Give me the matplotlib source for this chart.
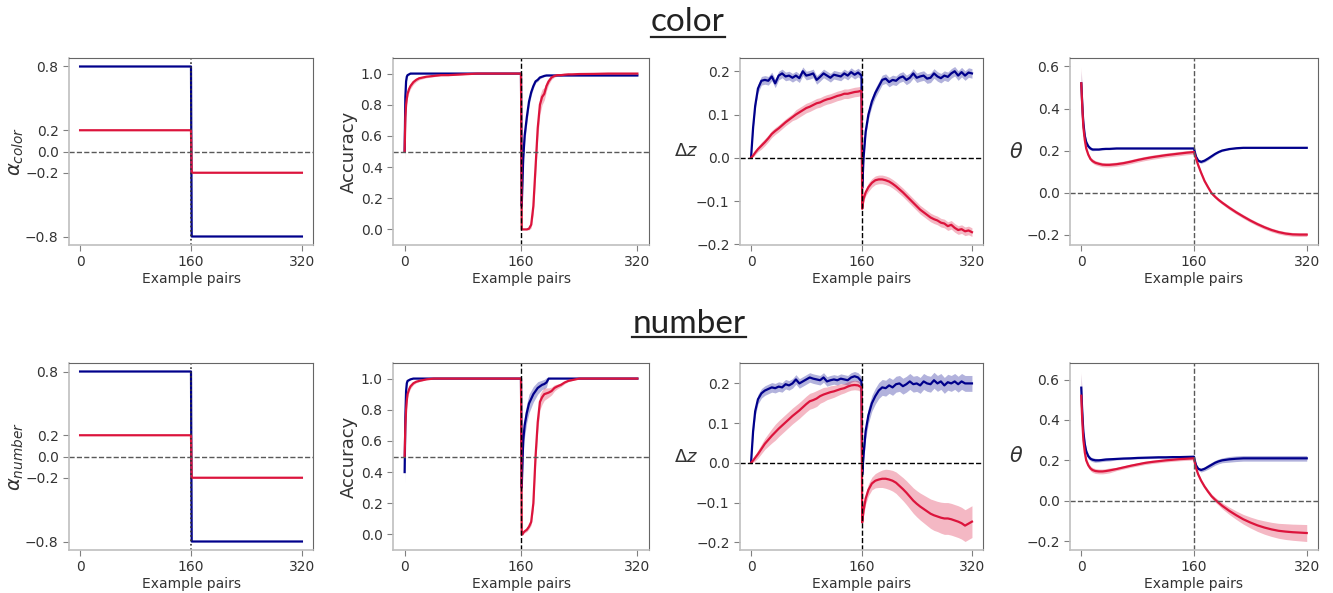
import numpy as np
import matplotlib
matplotlib.use('Agg')
import matplotlib.pyplot as plt
from matplotlib.lines import Line2D

BLUE = 'darkblue'
RED = 'crimson'
TXT = '#333333'

# ---- alpha (step schedule) ----
alpha_x = [0, 160, 161, 320]
alpha_blue = [0.8, 0.8, -0.8, -0.8]
alpha_red = [0.2, 0.2, -0.2, -0.2]

# ---- accuracy ----
acc_x = [0, 1, 2, 3, 4, 6, 8, 12, 16, 20, 25, 30, 40, 50, 60, 80, 100, 130, 160,
         161, 162, 163, 165, 168, 171, 174, 177, 180, 183, 186, 189, 192, 195, 198,
         202, 206, 210, 215, 220, 225, 230, 240, 260, 280, 300, 320]

acc_color_blue = [0.5, 0.85, 0.95, 0.98, 0.99, 0.995, 1.0, 1.0, 1.0, 1.0, 1.0, 1.0, 1.0, 1.0, 1.0, 1.0, 1.0, 1.0, 1.0,
                  0.15, 0.3, 0.45, 0.6, 0.72, 0.82, 0.88, 0.92, 0.95, 0.96, 0.975, 0.98, 0.985, 0.988, 0.988,
                  0.988, 0.988, 0.988, 0.988, 0.988, 0.988, 0.988, 0.988, 0.988, 0.988, 0.988, 0.988]
acc_color_blue_err = [0.03, 0.03, 0.02, 0.01, 0.005, 0.003, 0.002, 0, 0, 0, 0, 0, 0, 0, 0, 0, 0, 0, 0,
                      0.05, 0.06, 0.06, 0.05, 0.04, 0.03, 0.02, 0.015, 0.01, 0.01, 0.008, 0.006, 0.005, 0.004, 0.004,
                      0.003, 0.003, 0.003, 0.003, 0.003, 0.003, 0.003, 0.003, 0.003, 0.003, 0.003, 0.003]
acc_color_red = [0.5, 0.72, 0.8, 0.84, 0.87, 0.9, 0.92, 0.945, 0.96, 0.97, 0.975, 0.98, 0.985, 0.99, 0.99, 0.995, 1.0, 1.0, 1.0,
                 0.0, 0.0, 0.0, 0.0, 0.0, 0.005, 0.03, 0.15, 0.4, 0.65, 0.8, 0.85, 0.87, 0.92, 0.95,
                 0.975, 0.985, 0.99, 0.99, 0.993, 0.995, 0.995, 0.997, 0.998, 1.0, 1.0, 1.0]
acc_color_red_err = [0.06, 0.05, 0.04, 0.03, 0.025, 0.02, 0.018, 0.015, 0.012, 0.01, 0.008, 0.007, 0.005, 0.004, 0.003, 0.002, 0, 0, 0,
                     0, 0, 0, 0, 0.003, 0.008, 0.02, 0.05, 0.07, 0.07, 0.06, 0.05, 0.04, 0.03, 0.02,
                     0.012, 0.008, 0.006, 0.005, 0.004, 0.003, 0.003, 0.002, 0.002, 0.001, 0, 0]

acc_number_blue = [0.4, 0.75, 0.92, 0.97, 0.985, 0.99, 0.995, 1.0, 1.0, 1.0, 1.0, 1.0, 1.0, 1.0, 1.0, 1.0, 1.0, 1.0, 1.0,
                   0.3, 0.45, 0.6, 0.7, 0.78, 0.84, 0.87, 0.9, 0.92, 0.94, 0.95, 0.96, 0.965, 0.975, 1.0,
                   1.0, 1.0, 1.0, 1.0, 1.0, 1.0, 1.0, 1.0, 1.0, 1.0, 1.0, 1.0]
acc_number_blue_err = [0.07, 0.04, 0.02, 0.01, 0.006, 0.004, 0.002, 0, 0, 0, 0, 0, 0, 0, 0, 0, 0, 0, 0,
                       0.06, 0.07, 0.07, 0.07, 0.06, 0.06, 0.055, 0.05, 0.045, 0.04, 0.035, 0.03, 0.03, 0.03, 0.002,
                       0, 0, 0, 0, 0, 0, 0, 0, 0, 0, 0, 0]
acc_number_red = [0.5, 0.7, 0.8, 0.86, 0.9, 0.93, 0.95, 0.97, 0.98, 0.985, 0.99, 0.995, 1.0, 1.0, 1.0, 1.0, 1.0, 1.0, 1.0,
                  0.0, 0.0, 0.01, 0.02, 0.03, 0.05, 0.08, 0.2, 0.5, 0.72, 0.85, 0.88, 0.9, 0.905, 0.91,
                  0.92, 0.94, 0.95, 0.96, 0.975, 0.985, 0.99, 1.0, 1.0, 1.0, 1.0, 1.0]
acc_number_red_err = [0.05, 0.04, 0.03, 0.025, 0.02, 0.017, 0.015, 0.01, 0.007, 0.005, 0.003, 0.002, 0, 0, 0, 0, 0, 0, 0,
                      0, 0.003, 0.008, 0.01, 0.012, 0.015, 0.02, 0.04, 0.06, 0.06, 0.05, 0.045, 0.04, 0.035, 0.03,
                      0.025, 0.02, 0.015, 0.012, 0.008, 0.005, 0.003, 0, 0, 0, 0, 0]

# ---- delta z ----
dz_x = [0, 3, 6, 10,
        15, 20, 25, 30, 35, 40, 45, 50, 55, 60, 65, 70, 75, 80, 85, 90, 95, 100,
        105, 110, 115, 120, 125, 130, 135, 140, 145, 150, 155,
        160, 161, 163, 166,
        170, 175, 180, 185, 190, 195, 200, 205, 210, 215, 220, 225, 230, 235, 240, 245,
        250, 255, 260, 265, 270, 275, 280, 285, 290, 295, 300, 305, 310, 315, 320]

dz_color_blue = [0, 0.07, 0.12, 0.16,
                 0.178, 0.18, 0.178, 0.188, 0.172, 0.19, 0.195, 0.188, 0.19, 0.185, 0.19, 0.184, 0.2, 0.19, 0.192,
                 0.195, 0.18, 0.187, 0.195, 0.19, 0.185, 0.192, 0.19, 0.188, 0.195, 0.19, 0.198, 0.192, 0.197,
                 0.19, -0.07, 0.0, 0.06,
                 0.1, 0.13, 0.15, 0.165, 0.18, 0.183, 0.175, 0.18, 0.178, 0.185, 0.188, 0.18, 0.185, 0.195, 0.185,
                 0.188, 0.19, 0.183, 0.185, 0.195, 0.188, 0.184, 0.19, 0.187, 0.195, 0.2, 0.19, 0.198, 0.19, 0.197, 0.195]
dz_color_blue_err = [0, 0.005, 0.008, 0.01] + [0.01] * 29 + [0.01, 0.01, 0.01, 0.01] + [0.011] * 31
dz_color_red = [0, 0.005, 0.012, 0.02,
                0.028, 0.036, 0.045, 0.055, 0.062, 0.068, 0.075, 0.082, 0.088, 0.094, 0.1, 0.105, 0.11, 0.115,
                0.118, 0.122, 0.126, 0.128, 0.132, 0.135, 0.137, 0.14, 0.143, 0.145, 0.148, 0.148, 0.15, 0.152, 0.153,
                0.155, -0.118, -0.095, -0.08,
                -0.068, -0.058, -0.052, -0.05, -0.05, -0.052, -0.055, -0.06, -0.066, -0.073, -0.08, -0.088, -0.096,
                -0.104, -0.112, -0.12, -0.126, -0.132, -0.138, -0.142, -0.145, -0.15, -0.152, -0.158, -0.155,
                -0.162, -0.167, -0.165, -0.17, -0.168, -0.172]
dz_color_red_err = [0, 0.003, 0.005, 0.006] + [0.008] * 10 + [0.011] * 19 + [0.011, 0.006, 0.007, 0.008] + [0.01] * 31

dz_number_blue = [0, 0.08, 0.13, 0.16,
                  0.175, 0.182, 0.186, 0.19, 0.188, 0.192, 0.19, 0.198, 0.195, 0.2, 0.21, 0.2, 0.205, 0.21, 0.215,
                  0.212, 0.21, 0.208, 0.215, 0.205, 0.208, 0.21, 0.208, 0.212, 0.21, 0.208, 0.215, 0.218, 0.215,
                  0.205, -0.03, 0.02, 0.08,
                  0.12, 0.15, 0.168, 0.182, 0.19, 0.188, 0.195, 0.19, 0.198, 0.2, 0.193, 0.198, 0.205, 0.198, 0.2,
                  0.195, 0.205, 0.2, 0.198, 0.208, 0.2, 0.205, 0.195, 0.203, 0.2, 0.205, 0.198, 0.205, 0.2, 0.2, 0.2]
dz_number_blue_err = [0, 0.01, 0.012, 0.012] + [0.012] * 29 + [0.012, 0.01, 0.015, 0.02] + [0.02] * 31
dz_number_red = [0, 0.006, 0.013, 0.022,
                 0.035, 0.048, 0.058, 0.068, 0.077, 0.086, 0.094, 0.102, 0.11, 0.118, 0.125, 0.132, 0.14, 0.148,
                 0.155, 0.158, 0.162, 0.168, 0.172, 0.175, 0.178, 0.18, 0.183, 0.186, 0.188, 0.192, 0.195, 0.196, 0.195,
                 0.19, -0.15, -0.12, -0.09,
                 -0.068, -0.052, -0.045, -0.042, -0.04, -0.04, -0.042, -0.045, -0.05, -0.058, -0.066, -0.075, -0.085,
                 -0.095, -0.103, -0.11, -0.116, -0.122, -0.128, -0.132, -0.135, -0.138, -0.14, -0.14, -0.142,
                 -0.145, -0.148, -0.152, -0.158, -0.153, -0.148]
dz_number_red_err = ([0, 0.005, 0.008, 0.01] +
                     [0.012, 0.014, 0.016, 0.018, 0.02, 0.02, 0.02, 0.02, 0.02, 0.02, 0.02, 0.02, 0.02, 0.02, 0.02,
                      0.02, 0.02, 0.018, 0.018, 0.016, 0.016, 0.015, 0.014, 0.013, 0.012, 0.012, 0.012, 0.012, 0.012] +
                     [0.012, 0.01, 0.012, 0.014] +
                     [0.015, 0.016, 0.018, 0.02, 0.022, 0.024, 0.025, 0.026, 0.027, 0.028, 0.029, 0.03, 0.031, 0.032,
                      0.033, 0.034, 0.035, 0.036, 0.037, 0.038, 0.038, 0.039, 0.04, 0.04, 0.04, 0.04, 0.04, 0.04,
                      0.04, 0.04, 0.04])

# ---- theta ----
th_x = [0, 1, 2, 3, 5, 7, 10, 13, 16, 20, 25, 30, 35, 40,
        50, 60, 70, 80, 90, 100, 110, 120, 130, 140, 150, 160,
        161, 163, 166, 170, 175, 180, 185, 190, 195, 200,
        210, 220, 230, 240, 250, 260, 270, 280, 290, 300, 310, 320]

th_color_blue = [0.52, 0.45, 0.38, 0.33, 0.27, 0.24, 0.22, 0.21, 0.205, 0.205, 0.205, 0.207, 0.208, 0.208,
                 0.21, 0.21, 0.21, 0.21, 0.21, 0.21, 0.21, 0.21, 0.21, 0.21, 0.21, 0.21,
                 0.195, 0.17, 0.152, 0.146, 0.152, 0.162, 0.173, 0.184, 0.193, 0.2,
                 0.207, 0.211, 0.213, 0.213, 0.213, 0.213, 0.213, 0.213, 0.213, 0.213, 0.213, 0.213]
th_color_blue_err = [0.06, 0.04, 0.03, 0.02, 0.015, 0.012, 0.01, 0.008, 0.006, 0.005, 0.004, 0.004, 0.004, 0.004,
                     0.003, 0.003, 0.003, 0.003, 0.003, 0.003, 0.003, 0.003, 0.003, 0.003, 0.003, 0.003,
                     0.004, 0.006, 0.007, 0.007, 0.007, 0.007, 0.006, 0.005, 0.004, 0.004,
                     0.003, 0.003, 0.003, 0.003, 0.003, 0.003, 0.003, 0.003, 0.003, 0.003, 0.003, 0.003]
th_color_red = [0.52, 0.44, 0.37, 0.31, 0.25, 0.21, 0.18, 0.16, 0.15, 0.142, 0.137, 0.133, 0.132, 0.132,
                0.135, 0.14, 0.147, 0.155, 0.162, 0.168, 0.173, 0.178, 0.182, 0.186, 0.19, 0.193,
                0.18, 0.16, 0.13, 0.095, 0.055, 0.025, -0.003, -0.02, -0.035, -0.048,
                -0.072, -0.094, -0.114, -0.133, -0.15, -0.165, -0.178, -0.188, -0.195, -0.199, -0.2, -0.2]
th_color_red_err = [0.08, 0.05, 0.03, 0.02, 0.015, 0.012, 0.01, 0.01, 0.01, 0.01, 0.01, 0.01, 0.01, 0.01,
                    0.01, 0.01, 0.01, 0.01, 0.01, 0.01, 0.01, 0.01, 0.01, 0.01, 0.01, 0.01,
                    0.008, 0.008, 0.008, 0.008, 0.008, 0.008, 0.008, 0.008, 0.008, 0.008,
                    0.009, 0.009, 0.009, 0.009, 0.009, 0.009, 0.009, 0.009, 0.009, 0.009, 0.009, 0.009]

th_number_blue = [0.56, 0.47, 0.4, 0.34, 0.28, 0.245, 0.22, 0.208, 0.203, 0.2, 0.2, 0.202, 0.204, 0.205,
                  0.207, 0.209, 0.21, 0.212, 0.213, 0.214, 0.215, 0.215, 0.216, 0.216, 0.217, 0.218,
                  0.2, 0.175, 0.158, 0.152, 0.158, 0.168, 0.178, 0.188, 0.195, 0.2,
                  0.205, 0.208, 0.21, 0.21, 0.21, 0.21, 0.21, 0.21, 0.21, 0.21, 0.21, 0.21]
th_number_blue_err = [0.07, 0.05, 0.035, 0.025, 0.018, 0.014, 0.012, 0.01, 0.01, 0.01, 0.008, 0.008, 0.008, 0.008,
                      0.005, 0.005, 0.005, 0.005, 0.005, 0.005, 0.005, 0.005, 0.005, 0.005, 0.005, 0.005,
                      0.006, 0.007, 0.008, 0.01, 0.01, 0.012, 0.012, 0.012, 0.012, 0.012,
                      0.014, 0.014, 0.014, 0.014, 0.014, 0.014, 0.014, 0.014, 0.014, 0.014, 0.014, 0.014]
th_number_red = [0.52, 0.43, 0.36, 0.3, 0.24, 0.2, 0.175, 0.16, 0.152, 0.147, 0.145, 0.145, 0.147, 0.15,
                 0.157, 0.165, 0.173, 0.18, 0.187, 0.192, 0.196, 0.2, 0.203, 0.206, 0.208, 0.21,
                 0.19, 0.16, 0.13, 0.1, 0.07, 0.045, 0.022, 0.005, -0.01, -0.025,
                 -0.05, -0.072, -0.092, -0.108, -0.122, -0.133, -0.142, -0.149, -0.153, -0.156, -0.158, -0.16]
th_number_red_err = [0.12, 0.06, 0.04, 0.03, 0.02, 0.015, 0.012, 0.012, 0.012, 0.012, 0.012, 0.012, 0.012, 0.012,
                     0.008, 0.008, 0.008, 0.008, 0.008, 0.008, 0.008, 0.008, 0.008, 0.008, 0.008, 0.008,
                     0.006, 0.006, 0.007, 0.008, 0.009, 0.01, 0.011, 0.012, 0.013, 0.015,
                     0.018, 0.021, 0.024, 0.027, 0.03, 0.033, 0.035, 0.037, 0.039, 0.04, 0.041, 0.042]


def plot_series(ax, x, y, err, color):
    x = np.array(x)
    y = np.array(y)
    err = np.array(err)
    ax.fill_between(x, y - err, y + err, color=color, alpha=0.3, lw=0)
    ax.plot(x, y, color=color, lw=1.6)


def style_axes(ax, ylabel, horizontal=False, label_size=13, pad=4):
    ax.set_xticks([0, 160, 320])
    ax.set_xlabel('Example pairs', fontsize=10, color=TXT, labelpad=2)
    if horizontal:
        ax.set_ylabel(ylabel, fontsize=label_size, color=TXT, rotation=0, labelpad=pad, va='center')
    else:
        ax.set_ylabel(ylabel, fontsize=label_size, color=TXT, labelpad=pad)
    ax.tick_params(labelsize=10, labelcolor=TXT, color='0.5', length=4)
    # light grey left/bottom, darker top/right like the original
    ax.spines['left'].set_color('0.75')
    ax.spines['bottom'].set_color('0.75')
    ax.spines['left'].set_linewidth(1.2)
    ax.spines['bottom'].set_linewidth(1.2)
    ax.spines['top'].set_color('0.4')
    ax.spines['right'].set_color('0.4')
    ax.spines['top'].set_linewidth(0.8)
    ax.spines['right'].set_linewidth(0.8)


fig = plt.figure(figsize=(13.33, 5.93), dpi=100)

col_left = [69, 393, 740, 1070]
col_right = [313, 649, 983, 1318]
row_top = [58, 363]
row_bottom = [245, 550]
W, H = 1333.0, 593.0

panels = [
    ('color', alpha_blue, alpha_red, acc_color_blue, acc_color_blue_err, acc_color_red, acc_color_red_err,
     dz_color_blue, dz_color_blue_err, dz_color_red, dz_color_red_err,
     th_color_blue, th_color_blue_err, th_color_red, th_color_red_err),
    ('number', alpha_blue, alpha_red, acc_number_blue, acc_number_blue_err, acc_number_red, acc_number_red_err,
     dz_number_blue, dz_number_blue_err, dz_number_red, dz_number_red_err,
     th_number_blue, th_number_blue_err, th_number_red, th_number_red_err),
]

for r, p in enumerate(panels):
    name = p[0]
    axes = []
    for c in range(4):
        ax = fig.add_axes([col_left[c] / W, 1 - row_bottom[r] / H,
                           (col_right[c] - col_left[c]) / W, (row_bottom[r] - row_top[r]) / H])
        axes.append(ax)

    # alpha
    ax = axes[0]
    ax.plot(alpha_x, p[1], color=BLUE, lw=1.6)
    ax.plot(alpha_x, p[2], color=RED, lw=1.6)
    ax.axhline(0, color='0.35', ls='--', lw=1)
    ax.axvline(160, color='0.2', ls=':', lw=1.2)
    ax.set_yticks([0.8, 0.2, 0.0, -0.2, -0.8])
    ax.set_yticklabels(['0.8', '0.2', '0.0', '\u22120.2', '\u22120.8'])
    style_axes(ax, r'$\alpha_{%s}$' % name, label_size=14, pad=-1)

    # accuracy
    ax = axes[1]
    plot_series(ax, acc_x, p[3], p[4], BLUE)
    plot_series(ax, acc_x, p[5], p[6], RED)
    ax.axhline(0.5, color='0.35', ls='--', lw=1)
    ax.axvline(160, color='k', ls='--', lw=1)
    ax.set_ylim(-0.1, 1.1)
    ax.set_yticks([0.0, 0.2, 0.4, 0.6, 0.8, 1.0])
    style_axes(ax, 'Accuracy', label_size=13, pad=2)

    # delta z
    ax = axes[2]
    plot_series(ax, dz_x, p[7], p[8], BLUE)
    plot_series(ax, dz_x, p[9], p[10], RED)
    ax.axhline(0, color='k', ls='--', lw=1)
    ax.axvline(160, color='k', ls='--', lw=1)
    ax.set_yticks([-0.2, -0.1, 0.0, 0.1, 0.2])
    style_axes(ax, r'$\Delta z$', horizontal=True, label_size=13, pad=7)

    # theta
    ax = axes[3]
    plot_series(ax, th_x, p[11], p[12], BLUE)
    plot_series(ax, th_x, p[13], p[14], RED)
    ax.axhline(0, color='0.35', ls='--', lw=1)
    ax.axvline(160, color='0.35', ls='--', lw=1)
    ax.set_yticks([-0.2, 0.0, 0.2, 0.4, 0.6])
    style_axes(ax, r'$\theta$', horizontal=True, label_size=15, pad=7)

# section titles with underline
titles = []
titles.append(fig.text(688 / W, 1 - 22 / H, 'color', ha='center', va='center',
                       fontsize=24, family='Lato', color='#222222'))
titles.append(fig.text(689 / W, 1 - 324 / H, 'number', ha='center', va='center',
                       fontsize=24, family='Lato', color='#222222'))

fig.canvas.draw()
renderer = fig.canvas.get_renderer()
for t, uy in zip(titles, [37, 337]):
    bb = t.get_window_extent(renderer)
    y = 1 - uy / H
    fig.add_artist(Line2D([bb.x0 / W, bb.x1 / W], [y, y], color='#222222', lw=1.6,
                          transform=fig.transFigure))

fig.savefig('out.png', dpi=100)
